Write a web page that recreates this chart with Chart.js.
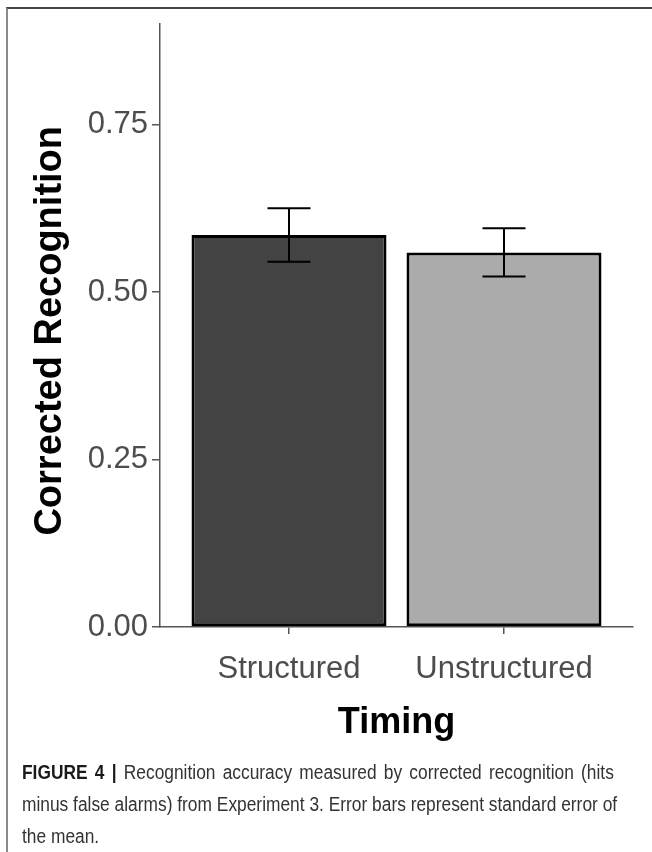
<!DOCTYPE html>
<html><head><meta charset="utf-8">
<script src="https://cdn.jsdelivr.net/npm/chart.js@4/dist/chart.umd.min.js"></script>
<style>
html,body{margin:0;padding:0;background:#fff;width:652px;height:852px;overflow:hidden;}
#frame{position:absolute;left:6px;top:7px;width:700px;height:900px;border-top:2px solid #444;border-left:2px solid #8a8a8a;}
#wrap{position:absolute;left:0;top:0;width:652px;height:760px;}
#cap{position:absolute;left:22px;top:756px;width:665px;font-family:"Liberation Sans",Arial,sans-serif;font-size:19.5px;line-height:32px;color:#333;white-space:nowrap;transform:scaleX(0.89);transform-origin:0 0;}
#cap div{width:665px;}
#cap .j{text-align:justify;text-align-last:justify;}
#cap b{color:#1a1a1a;}
</style></head><body>
<div id="frame"></div>
<div id="wrap"><canvas id="c" width="652" height="760"></canvas></div>
<div id="cap"><div class="j"><b>FIGURE 4 |</b> Recognition accuracy measured by corrected recognition (hits</div><div class="j">minus false alarms) from Experiment 3. Error bars represent standard error of</div><div>the mean.</div></div>
<script>
const categories = ['Structured', 'Unstructured'];
const means = [0.585, 0.559];
const stdErrors = [0.040, 0.036];
const yTickValues = [0, 0.25, 0.5, 0.75];
const barColors = ['#434343', '#ababab'];

const FAM = '"Liberation Sans", Arial, sans-serif';

const errorBars = {
  id: 'errorBars',
  afterDatasetsDraw(chart) {
    const {ctx, scales: {x, y}} = chart;
    const step = x.getPixelForValue(1) - x.getPixelForValue(0);
    const half = step * 0.1;
    ctx.save();
    ctx.strokeStyle = '#000';
    ctx.lineWidth = 2;
    means.forEach((m, i) => {
      const px = x.getPixelForValue(i);
      const top = y.getPixelForValue(m + stdErrors[i]);
      const bot = y.getPixelForValue(m - stdErrors[i]);
      ctx.beginPath();
      ctx.moveTo(px, top); ctx.lineTo(px, bot);
      ctx.moveTo(px - half, top); ctx.lineTo(px + half, top);
      ctx.moveTo(px - half, bot); ctx.lineTo(px + half, bot);
      ctx.stroke();
    });
    ctx.restore();
  }
};

new Chart(document.getElementById('c'), {
  type: 'bar',
  data: {
    datasets: [{
      data: categories.map((c, i) => ({x: i, y: means[i]})),
      backgroundColor: barColors,
      borderColor: '#000',
      borderWidth: 3,
      borderSkipped: false,
      barPercentage: 0.907,
      categoryPercentage: 1
    }]
  },
  options: {
    responsive: false,
    devicePixelRatio: 1,
    animation: false,
    layout: {padding: {top: 24, right: 19, left: 0, bottom: 0}},
    plugins: {legend: {display: false}, tooltip: {enabled: false}},
    scales: {
      x: {
        type: 'linear', min: -0.6, max: 1.6, offset: false,
        afterBuildTicks: s => { s.ticks = categories.map((c, i) => ({value: i})); },
        afterFit: s => { s.height = 133; },
        ticks: {callback: v => categories[v], font: {size: 31, family: FAM}, color: '#4d4d4d', padding: 17, maxRotation: 0, autoSkip: false},
        grid: {drawOnChartArea: false, drawTicks: true, tickLength: 7, color: '#555', lineWidth: 1.5, offset: false},
        border: {display: true, color: '#555', width: 1.5},
        title: {display: true, text: 'Timing', font: {size: 36, weight: 'bold', family: FAM}, color: '#000', padding: {top: 0, bottom: 15}}
      },
      y: {
        type: 'linear', min: 0, max: 0.9,
        afterBuildTicks: s => { s.ticks = yTickValues.map(v => ({value: v})); },
        afterFit: s => { s.width = 160; },
        ticks: {callback: v => Number(v).toFixed(2), font: {size: 31, family: FAM}, color: '#4d4d4d', padding: 4},
        grid: {drawOnChartArea: false, drawTicks: true, tickLength: 8, color: '#555', lineWidth: 1.5},
        border: {display: true, color: '#555', width: 1.5},
        title: {display: true, text: 'Corrected Recognition\u00a0', font: {size: 38, weight: 'bold', family: FAM}, color: '#000', padding: {top: 28, bottom: 0}}
      }
    }
  },
  plugins: [errorBars]
});
</script>
</body></html>
